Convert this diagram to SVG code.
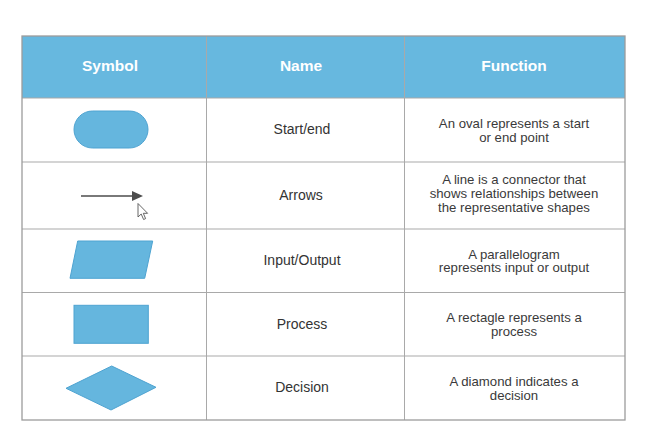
<svg xmlns="http://www.w3.org/2000/svg" width="664" height="448" viewBox="0 0 664 448">
  <style>
    .hdr { fill: #67b8df; }
    .hdrtxt { font-family: "Liberation Sans", Arial, sans-serif; font-weight: bold; font-size: 15.5px; fill: #ffffff; text-anchor: middle; }
    .name { font-family: "Liberation Sans", Arial, sans-serif; font-size: 14px; fill: #333333; text-anchor: middle; }
    .func { font-family: "Liberation Sans", Arial, sans-serif; font-size: 13.2px; fill: #3a3a3a; text-anchor: middle; }
    .shape { fill: #65b6de; stroke: #4ea3d1; stroke-width: 1; }
    .grid { stroke: #a9a9a9; stroke-width: 1; fill: none; }
    .outer { stroke: #9c9c9c; stroke-width: 1.3; fill: none; }
  </style>
  <defs>
    <marker id="arrowhead" markerWidth="11" markerHeight="10" refX="0" refY="5" orient="auto" markerUnits="userSpaceOnUse">
      <path d="M0,0 L11,5 L0,10 Z" fill="#4d4d4d"/>
    </marker>
  </defs>
  <rect x="0" y="0" width="664" height="448" fill="#ffffff"/>

  <g id="header">
    <rect class="hdr" x="22" y="36" width="603" height="62"/>
    <text class="hdrtxt" x="110" y="71">Symbol</text>
    <text class="hdrtxt" x="301" y="71">Name</text>
    <text class="hdrtxt" x="514" y="71">Function</text>
  </g>

  <g id="grid">
    <line class="grid" x1="22" y1="98" x2="625" y2="98"/>
    <line class="grid" x1="22" y1="162" x2="625" y2="162"/>
    <line class="grid" x1="22" y1="229" x2="625" y2="229"/>
    <line class="grid" x1="22" y1="292.5" x2="625" y2="292.5"/>
    <line class="grid" x1="22" y1="356" x2="625" y2="356"/>
    <line class="grid" x1="206.5" y1="36" x2="206.5" y2="420"/>
    <line class="grid" x1="404.5" y1="36" x2="404.5" y2="420"/>
    <rect class="outer" x="22" y="36" width="603" height="384"/>
  </g>

  <g id="row-start-end">
    <rect class="shape" x="74" y="111" width="74" height="37" rx="18.5" ry="18.5"/>
    <text class="name" x="302" y="134">Start/end</text>
    <text class="func" x="514" y="127.5">An oval represents a start</text>
    <text class="func" x="514" y="141.5">or end point</text>
  </g>

  <g id="row-arrows">
    <g id="connectors">
      <line x1="81" y1="196" x2="132" y2="196" stroke="#4d4d4d" stroke-width="1.6" marker-end="url(#arrowhead)"/>
    </g>
    <path d="M138,203.5 L138,217 L141.2,214 L143.6,219.5 L145.6,218.6 L143.3,213.3 L147.6,213.3 Z" fill="#ffffff" stroke="#555555" stroke-width="0.9" stroke-linejoin="round"/>
    <text class="name" x="301" y="199.5">Arrows</text>
    <text class="func" x="514" y="184">A line is a connector that</text>
    <text class="func" x="514" y="198">shows relationships between</text>
    <text class="func" x="514" y="212">the representative shapes</text>
  </g>

  <g id="row-input-output">
    <polygon class="shape" points="77.7,241 152.7,241 144.7,278.3 70,278.3"/>
    <text class="name" x="302" y="264.5">Input/Output</text>
    <text class="func" x="514" y="258.5">A parallelogram</text>
    <text class="func" x="514" y="272">represents input or output</text>
  </g>

  <g id="row-process">
    <rect class="shape" x="74" y="305.3" width="74.3" height="38"/>
    <text class="name" x="302" y="328.5">Process</text>
    <text class="func" x="514" y="322">A rectagle represents a</text>
    <text class="func" x="514" y="336">process</text>
  </g>

  <g id="row-decision">
    <polygon class="shape" points="66,388.3 111.7,366 156,387.3 111,410"/>
    <text class="name" x="302" y="392">Decision</text>
    <text class="func" x="514" y="385.5">A diamond indicates a</text>
    <text class="func" x="514" y="400">decision</text>
  </g>
</svg>
